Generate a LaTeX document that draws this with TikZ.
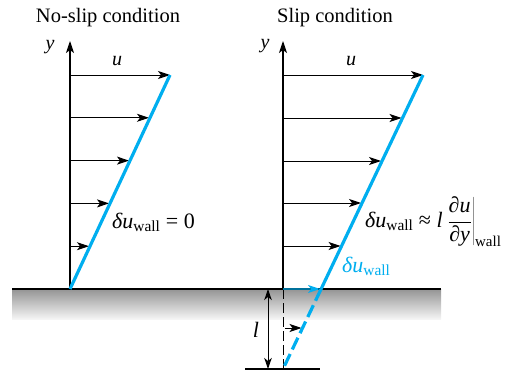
\documentclass[tikz,border=0pt]{standalone}
\usepackage{fontspec}
\setmainfont{Liberation Serif}
\usetikzlibrary{arrows.meta,calc}
\definecolor{flow}{RGB}{0,174,239}
\begin{document}
\begin{tikzpicture}[x=1pt,y=-1pt,
  axisarrow/.style={line width=1.1pt,-{Stealth[length=12pt,width=8pt,inset=3pt]}},
  vec/.style={line width=1pt,-{Stealth[length=12pt,width=8pt,inset=3pt]},shorten >=1pt},
  prof/.style={flow,line width=3.2pt},
  wallline/.style={line width=1.2pt},
  lbl/.style={font=\fontsize{20}{24}\selectfont,inner sep=0pt},
  mlbl/.style={font=\fontsize{22}{26}\selectfont,inner sep=0pt},
  ttl/.style={font=\fontsize{20.5}{24}\selectfont,inner sep=0pt}]
\useasboundingbox (0,0) rectangle (507,372);
% wall band
\shade[top color=black!42,bottom color=black!4] (12,289) rectangle (441,319);
\coordinate (WL) at (12,289);
\coordinate (WR) at (441,289);
\draw[wallline] (WL) -- (WR);
% ---------- left: no-slip ----------
\coordinate (O1) at (70,289);
\coordinate (Y1) at (70,41);
\coordinate (T1) at (170,75);
\coordinate (A1top) at (70,75);
\draw[axisarrow] (O1) -- (Y1);
\draw[vec,shorten >=0pt] (A1top) -- (T1);
\foreach \t [count=\i] in {0.8,0.6,0.4,0.2}{
  \coordinate (La\i) at ($(O1)!\t!(A1top)$);
  \coordinate (Lb\i) at ($(O1)!\t!(T1)$);
  \draw[vec] (La\i) -- (Lb\i);
}
\draw[prof] (O1) -- (T1);
\node[ttl,anchor=base] (t1) at (108,23) {No-slip condition};
\node[lbl,anchor=center] (y1) at (50,47) {\itshape y};
\node[lbl,anchor=base] (u1) at (117,65) {\itshape u};
\node[mlbl,anchor=base west] (d1) at (112,228) {{\itshape δu}\textsubscript{wall} = 0};
% ---------- right: slip ----------
\coordinate (O2) at (283,289);
\coordinate (Y2) at (283,41);
\coordinate (T2) at (423,75);
\coordinate (B2) at (283,369);
\coordinate (A2top) at (283,75);
\coordinate (W2) at ($(B2)!0.2721!(T2)$);
\draw[axisarrow] (O2) -- (Y2);
\draw[line width=1pt,dash pattern=on 10pt off 4pt] (O2) -- (B2);
\draw[vec,shorten >=0pt] (A2top) -- (T2);
\foreach \yy [count=\i] in {118,161,203,246}{
  \pgfmathsetmacro\xe{283+0.47619*(369-\yy)}
  \coordinate (Ra\i) at (283,\yy);
  \coordinate (Rb\i) at (\xe,\yy);
  \draw[vec] (Ra\i) -- (Rb\i);
}
\coordinate (Rc) at (285,328);
\coordinate (Rd) at (302.5,328);
\draw[vec] (Rc) -- (Rd);
\draw[flow,line width=1.1pt,-{Stealth[length=12pt,width=8pt,inset=3pt]},shorten >=1pt] (O2) -- (W2);
\draw[prof] (W2) -- (T2);
\draw[prof,dash pattern=on 13pt off 5pt] (W2) -- (B2);
% bottom line and dimension
\coordinate (BL) at (245,369);
\coordinate (BR) at (320,369);
\draw[line width=1.1pt] (BL) -- (BR);
\coordinate (Dt) at (268,289);
\coordinate (Db) at (268,369);
\draw[line width=1pt,{Stealth[length=11pt,width=7.5pt,inset=3pt]}-{Stealth[length=11pt,width=7.5pt,inset=3pt]}] (Dt) -- (Db);
\node[mlbl] (l) at (256,330) {\itshape l};
\node[ttl,anchor=base] (t2) at (335,23) {Slip condition};
\node[lbl,anchor=center] (y2) at (265,46) {\itshape y};
\node[lbl,anchor=base] (u2) at (351,65) {\itshape u};
\node[mlbl,anchor=base west] (d2) at (365,227) {{\itshape δu}\textsubscript{wall} ≈ {\itshape l}\,$\displaystyle\left.\frac{\mbox{\itshape ∂u}}{\mbox{\itshape ∂y}}\right|_{\mbox{\fontsize{15}{15}\selectfont wall}}$};
\node[mlbl,anchor=base west,text=flow] (d3) at (342,272) {{\itshape δu}\textsubscript{wall}};
\end{tikzpicture}
\end{document}
